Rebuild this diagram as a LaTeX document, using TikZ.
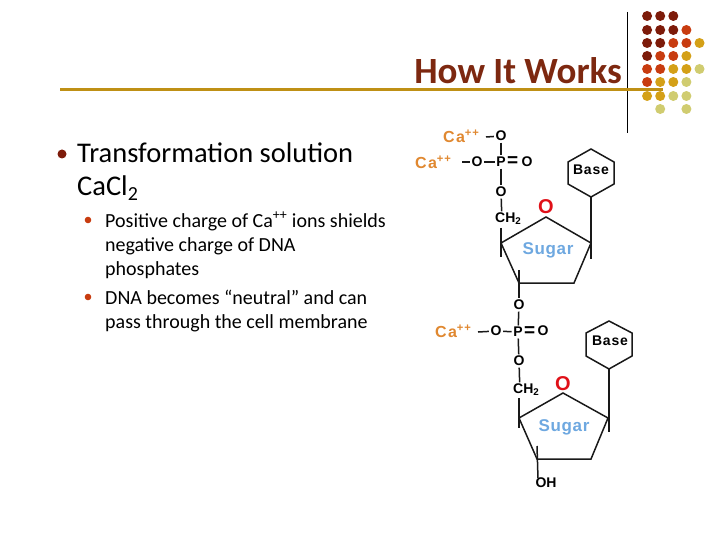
\documentclass[tikz,border=0pt]{standalone}
\usepackage{fontspec}
\setmainfont{Carlito}
\newfontfamily\chemfont{Liberation Sans}
\usetikzlibrary{calc}
\definecolor{maroon}{RGB}{125, 27, 10}
\definecolor{rust}{RGB}{200, 60, 16}
\definecolor{gold}{RGB}{212, 160, 23}
\definecolor{pale}{RGB}{208, 204, 112}
\definecolor{titlered}{RGB}{125, 40, 16}
\definecolor{caorange}{RGB}{224, 136, 48}
\definecolor{sugarblue}{RGB}{110, 168, 224}
\definecolor{ringred}{RGB}{224, 16, 24}

\tikzset{
  atom/.style={inner sep=1.5pt, font=\chemfont\bfseries\fontsize{14}{14}\selectfont},
  eqsign/.style={inner sep=0pt, anchor=west, font=\chemfont\bfseries\fontsize{19}{19}\selectfont},
  cation/.style={inner sep=0pt, anchor=west, text=caorange, font=\chemfont\bfseries\fontsize{16}{16}\selectfont\addfontfeature{LetterSpace=8}},
  sugar/.style={inner sep=0pt, text=sugarblue, font=\chemfont\bfseries\fontsize{17}{17}\selectfont\addfontfeature{LetterSpace=4}},
  ringo/.style={inner sep=0pt, text=ringred, font=\chemfont\bfseries\fontsize{20}{20}\selectfont},
  basetext/.style={inner sep=0pt, font=\chemfont\bfseries\fontsize{14}{14}\selectfont\addfontfeature{LetterSpace=6}},
  bond/.style={line width=1.5pt, black!90},
  bodytext/.style={inner sep=0pt, anchor=north west, align=left}
}

\begin{document}
\begin{tikzpicture}[x=1pt, y=-1pt]
\useasboundingbox (0, 0) rectangle (720, 540);

% corner dots
\foreach \row/\y/\cols in {
  1/16/{1/maroon, 2/maroon, 3/maroon},
  2/30/{1/maroon, 2/maroon, 3/maroon, 4/rust},
  3/43/{1/maroon, 2/maroon, 3/rust, 4/rust, 5/gold},
  4/56/{1/maroon, 2/rust, 3/rust, 4/gold},
  5/69/{1/rust, 2/rust, 3/gold, 4/gold, 5/pale},
  6/82/{1/rust, 2/gold, 3/gold, 4/pale},
  7/96/{1/gold, 2/gold, 3/pale, 4/pale},
  8/109/{2/pale, 4/pale}} {
  \foreach \c/\col in \cols {
    \fill[\col] ({634 + 13.1 * \c}, \y) circle (5);
  }
}

\coordinate (vtop) at (627, 12);
\coordinate (vbot) at (627, 133);
\draw[line width=0.8pt] (vtop) -- (vbot);
\coordinate (rulel) at (60, 90);
\coordinate (ruler) at (663, 90);
\draw[line width=3pt, gold!90!black] (rulel) -- (ruler);

\node[inner sep=0pt, anchor=east, text=titlered, font=\bfseries\fontsize{37}{37}\selectfont] (title) at (622, 71) {How It Works};

% text on the left
\fill[maroon] (62, 154) circle (4.5);
\node[bodytext, font=\fontsize{28.5}{33}\selectfont] (main) at (77, 143) {Transformation solution\\CaCl\textsubscript{2}};
\fill[rust] (88, 220) circle (3.3);
\node[bodytext, font=\fontsize{20}{24}\selectfont] (subone) at (105, 212) {Positive charge of Ca\textsuperscript{++} ions shields\\negative charge of DNA\\phosphates};
\fill[rust] (88, 297) circle (3.3);
\node[bodytext, font=\fontsize{20}{24}\selectfont] (subtwo) at (105, 290) {DNA becomes “neutral” and can\\pass through the cell membrane};

% upper nucleotide
\node[cation] (caa) at (443, 136) {Ca\textsuperscript{++}};
\node[cation] (cab) at (415, 162) {Ca\textsuperscript{++}};
\node[atom] (oa) at (501, 136) {O};
\node[atom] (ob) at (477, 162) {O};
\node[atom] (pa) at (501, 162) {P};
\node[eqsign] (eqa) at (507, 162) {=};
\node[atom] (oc) at (527, 162) {O};
\node[atom] (od) at (501, 192) {O};
\node[atom, anchor=west, inner xsep=0pt] (cha) at (495, 219) {CH\textsubscript{2}};
\node[ringo] (ora) at (546, 207) {O};
\node[sugar] (sua) at (548, 250) {Sugar};
\node[basetext] (baa) at (591, 170) {Base};
\node[atom] (oe) at (519, 305) {O};
\coordinate (dasha) at (486, 137);
\coordinate (dashb) at (462, 162);
\coordinate (rat) at (546, 217);
\coordinate (rar) at (591, 243);
\coordinate (rabr) at (574, 283);
\coordinate (rabl) at (519, 283);
\coordinate (ral) at (501, 243);
\coordinate (hat) at (591, 149);
\coordinate (haur) at (614, 162);
\coordinate (halr) at (614, 184);
\coordinate (hab) at (591, 197);
\coordinate (hall) at (568, 184);
\coordinate (haul) at (568, 162);
\coordinate (tka) at (501, 257);
\coordinate (tkb) at (519, 270);
\coordinate (tkc) at (591, 259);
\coordinate (chla) at (501, 228);
\draw[bond] (dasha) -- (oa);
\draw[bond] (dashb) -- (ob);
\draw[bond] (ob) -- (pa);
\draw[bond] (oa) -- (pa);
\draw[bond] (pa) -- (od);
\draw[bond] (od) -- ($(cha.north west)!0.5!(cha.north)$);
\draw[bond] (chla) -- (tka);
\draw[bond] (ral) -- (rat) -- (rar) -- (rabr) -- (rabl) -- cycle;
\draw[bond] (tkb) -- (oe);
\draw[bond] (hat) -- (haur) -- (halr) -- (hab) -- (hall) -- (haul) -- cycle;
\draw[bond] (hab) -- (tkc);

% lower nucleotide
\node[cation] (cac) at (435, 331) {Ca\textsuperscript{++}};
\node[atom] (of) at (496, 331) {O};
\node[atom] (pb) at (518, 332) {P};
\node[eqsign] (eqb) at (524, 332) {=};
\node[atom] (og) at (543, 331) {O};
\node[atom] (oh) at (519, 361) {O};
\node[atom, anchor=west, inner xsep=0pt] (chb) at (513, 390) {CH\textsubscript{2}};
\node[ringo] (orb) at (563, 384) {O};
\node[sugar] (sub) at (564, 427) {Sugar};
\node[basetext] (bab) at (610, 341) {Base};
\node[atom, inner sep=0pt] (ohg) at (546, 483) {OH};
\coordinate (dashc) at (478, 332);
\coordinate (rbt) at (563, 393);
\coordinate (rbr) at (608, 418);
\coordinate (rbbr) at (591, 459);
\coordinate (rbbl) at (537, 459);
\coordinate (rbl) at (519, 418);
\coordinate (hbt) at (609, 321);
\coordinate (hbur) at (632, 333);
\coordinate (hblr) at (632, 356);
\coordinate (hbb) at (609, 369);
\coordinate (hbll) at (586, 356);
\coordinate (hbul) at (586, 333);
\coordinate (tkd) at (519, 428);
\coordinate (tke) at (537, 446);
\coordinate (tkf) at (609, 432);
\coordinate (chlb) at (519, 398);
\draw[bond] (dashc) -- (of);
\draw[bond] (of) -- (pb);
\draw[bond] (oe) -- (pb);
\draw[bond] (pb) -- (oh);
\draw[bond] (oh) -- ($(chb.north west)!0.5!(chb.north)$);
\draw[bond] (chlb) -- (tkd);
\draw[bond] (rbl) -- (rbt) -- (rbr) -- (rbbr) -- (rbbl) -- cycle;
\draw[bond] (tke) -- ($(ohg.north west)!0.25!(ohg.north)$);
\draw[bond] (hbt) -- (hbur) -- (hblr) -- (hbb) -- (hbll) -- (hbul) -- cycle;
\draw[bond] (hbb) -- (tkf);
\end{tikzpicture}
\end{document}
